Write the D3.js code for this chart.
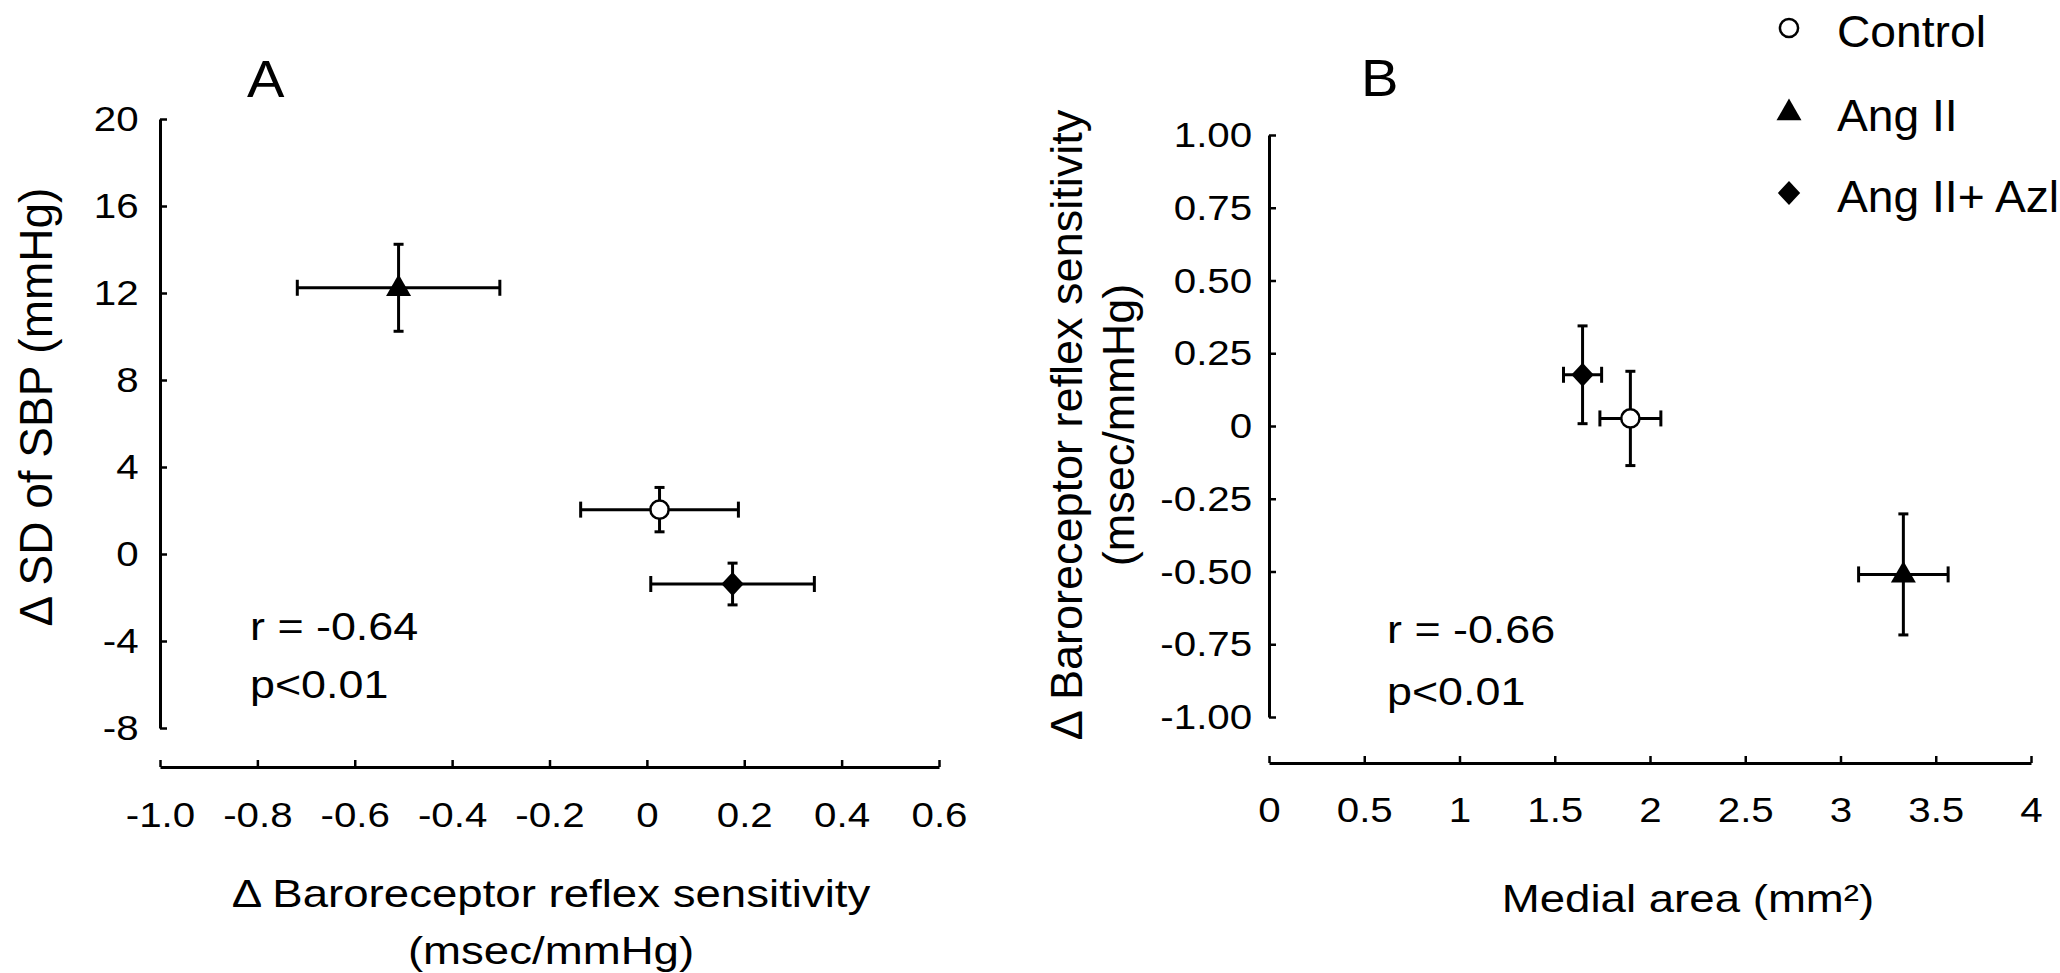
<!DOCTYPE html>
<html>
<head>
<meta charset="utf-8">
<script src="https://cdn.jsdelivr.net/npm/d3@7"></script>
<style>
  body { margin: 0; background: #fff; }
  text { font-family: "Liberation Sans", Arial, sans-serif; fill: #000; }
</style>
</head>
<body>
<script>

// groups, in legend order
var groups = ["Control", "Ang II", "Ang II+ Azl"];
var symbols = ["circle", "triangle", "diamond"];

// Δ baroreceptor reflex sensitivity (msec/mmHg), mean and error
var brsMean = [0.026, -0.51, 0.176];
var brsErr = [0.162, 0.208, 0.168];

// Δ SD of SBP (mmHg)
var sbpMean = [2.04, 12.24, -1.38];
var sbpErr = [1.02, 2.0, 0.96];

// medial area (mm²)
var medialMean = [1.897, 3.33, 1.646];
var medialErr = [0.16, 0.235, 0.1];

// tick labels
var xTicksA = [-1.0, -0.8, -0.6, -0.4, -0.2, 0, 0.2, 0.4, 0.6];
var yTicksA = [-8, -4, 0, 4, 8, 12, 16, 20];
var xTicksB = [0, 0.5, 1, 1.5, 2, 2.5, 3, 3.5, 4];
var yTicksB = [-1, -0.75, -0.5, -0.25, 0, 0.25, 0.5, 0.75, 1];

var svg = d3.select("body").append("svg")
  .attr("width", 2060)
  .attr("height", 973);

// text with a small horizontal stretch, the source figure is a bit wide
var label = function(x, y, str, size, sx, anchor, rot) {
  var tr = "translate(" + x + "," + y + ")";
  if (rot) tr += " rotate(" + rot + ")";
  tr += " scale(" + sx + ",1)";
  return svg.append("text")
    .attr("transform", tr)
    .attr("text-anchor", anchor || "start")
    .style("font-size", size + "px")
    .text(str);
}

var styleAxis = function(g, sx) {
  g.select(".domain").attr("stroke", "#000").attr("stroke-width", 3);
  g.selectAll(".tick line").attr("stroke", "#000").attr("stroke-width", 2.5);
  g.selectAll(".tick text")
    .attr("fill", "#000")
    .style("font-size", "36px")
    .style("font-family", "'Liberation Sans', Arial, sans-serif")
    .attr("transform", "scale(" + sx + ",1)");
}

var symbolPath = function(name, size) {
  if (name == "circle") return d3.symbol(d3.symbolCircle, size)();
  if (name == "triangle") return d3.symbol(d3.symbolTriangle, size)();
  return d3.symbol(d3.symbolSquare, size)();
}

var drawPoints = function(xs, ys, xm, xe, ym, ye) {
  var g = svg.append("g");
  for (var i = 0; i < groups.length; i++) {
    var cx = xs(xm[i]), cy = ys(ym[i]);
    var x0 = xs(xm[i] - xe[i]), x1 = xs(xm[i] + xe[i]);
    var y0 = ys(ym[i] - ye[i]), y1 = ys(ym[i] + ye[i]);
    var bars = [
      [x0, cy, x1, cy],
      [x0, cy - 8, x0, cy + 8],
      [x1, cy - 8, x1, cy + 8],
      [cx, y0, cx, y1],
      [cx - 5, y0, cx + 5, y0],
      [cx - 5, y1, cx + 5, y1]
    ];
    g.selectAll(null)
      .data(bars)
      .enter()
      .append("line")
      .attr("x1", function(d) { return d[0]; })
      .attr("y1", function(d) { return d[1]; })
      .attr("x2", function(d) { return d[2]; })
      .attr("y2", function(d) { return d[3]; })
      .attr("stroke", "#000")
      .attr("stroke-width", 3);
    drawSymbol(g, symbols[i], cx, cy);
  }
}

var drawSymbol = function(g, name, cx, cy) {
  var p = g.append("path");
  if (name == "circle") {
    p.attr("d", symbolPath("circle", 260))
      .attr("transform", "translate(" + cx + "," + cy + ")")
      .attr("fill", "#fff").attr("stroke", "#000").attr("stroke-width", 2.5);
  } else if (name == "triangle") {
    p.attr("d", symbolPath("triangle", 270))
      .attr("transform", "translate(" + cx + "," + (cy + 1) + ")")
      .attr("fill", "#000");
  } else {
    p.attr("d", symbolPath("diamond", 250))
      .attr("transform", "translate(" + cx + "," + cy + ") scale(1,1.08) rotate(45)")
      .attr("fill", "#000");
  }
}

// ---- panel A ----
var xA = d3.scaleLinear().domain([-1, 0.6]).range([160, 939]);
var yA = d3.scaleLinear().domain([-8, 20]).range([728, 119]);

svg.append("g")
  .attr("transform", "translate(0,767)")
  .call(d3.axisBottom(xA).tickValues(xTicksA).tickSizeInner(-7).tickSizeOuter(0).tickPadding(34)
    .tickFormat(function(d) { return d === 0 ? "0" : d.toFixed(1); }))
  .call(styleAxis, 1.12);

svg.append("g")
  .attr("transform", "translate(160,0)")
  .call(d3.axisLeft(yA).tickValues(yTicksA).tickSizeInner(-7).tickSizeOuter(0).tickPadding(19)
    .tickFormat(function(d) { return String(d); }))
  .call(styleAxis, 1.12);

drawPoints(xA, yA, brsMean, brsErr, sbpMean, sbpErr);

label(247, 97, "A", 52, 1.08);
label(52, 407, "Δ SD of SBP (mmHg)", 46, 1, "middle", -90);
label(551, 907, "Δ Baroreceptor reflex sensitivity", 38, 1.2, "middle");
label(551, 964, "(msec/mmHg)", 38, 1.2, "middle");
label(250, 640, "r = -0.64", 38, 1.18);
label(250, 698, "p<0.01", 38, 1.18);

// ---- panel B ----
var xB = d3.scaleLinear().domain([0, 4]).range([1269, 2031]);
var yB = d3.scaleLinear().domain([-1, 1]).range([717, 135]);

svg.append("g")
  .attr("transform", "translate(0,763)")
  .call(d3.axisBottom(xB).tickValues(xTicksB).tickSizeInner(-7).tickSizeOuter(0).tickPadding(33)
    .tickFormat(function(d) { return String(d); }))
  .call(styleAxis, 1.12);

svg.append("g")
  .attr("transform", "translate(1269,0)")
  .call(d3.axisLeft(yB).tickValues(yTicksB).tickSizeInner(-7).tickSizeOuter(0).tickPadding(15)
    .tickFormat(function(d) { return d === 0 ? "0" : d.toFixed(2); }))
  .call(styleAxis, 1.12);

drawPoints(xB, yB, medialMean, medialErr, brsMean, brsErr);

label(1361, 96, "B", 52, 1.08);
label(1082, 425, "Δ Baroreceptor reflex sensitivity", 45, 1, "middle", -90);
label(1134, 425, "(msec/mmHg)", 45, 1, "middle", -90);
label(1688, 912, "Medial area (mm²)", 38, 1.2, "middle");
label(1387, 643, "r = -0.66", 38, 1.18);
label(1387, 705, "p<0.01", 38, 1.18);

// ---- legend ----
var legY = [28, 112, 193];
var legG = svg.append("g");
for (var i = 0; i < groups.length; i++) {
  drawSymbol(legG, symbols[i], 1789, legY[i]);
  label(1837, legY[i] + 19, groups[i], 44, 1.05);
}

</script>
</body>
</html>
